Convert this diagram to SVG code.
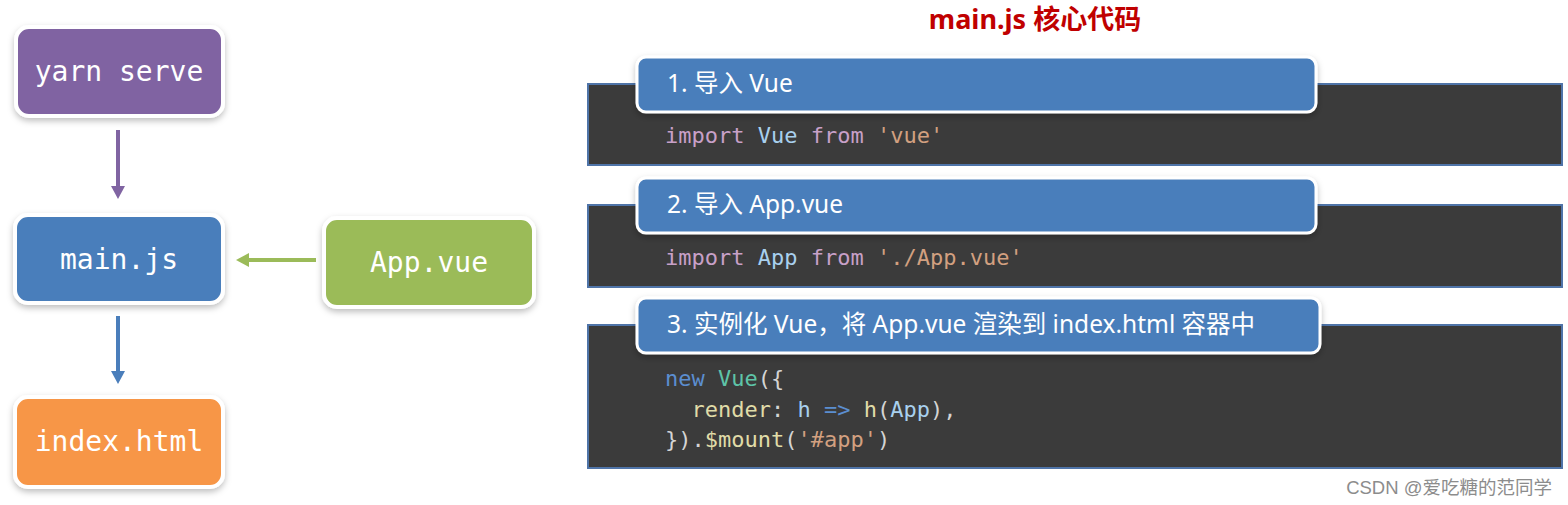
<svg xmlns="http://www.w3.org/2000/svg" width="1568" height="505" viewBox="0 0 1568 505">
<defs>
<filter id="sh" x="-20%" y="-20%" width="140%" height="150%">
<feDropShadow dx="0" dy="3" stdDeviation="3" flood-color="#000" flood-opacity="0.25"/>
</filter>
<marker id="ahP" markerWidth="14" markerHeight="14" refX="6" refY="7" orient="auto" markerUnits="userSpaceOnUse" viewBox="0 0 14 14"><path d="M0,0 L13,7 L0,14 z" fill="#8064A2"/></marker>
<marker id="ahB" markerWidth="14" markerHeight="14" refX="6" refY="7" orient="auto" markerUnits="userSpaceOnUse" viewBox="0 0 14 14"><path d="M0,0 L13,7 L0,14 z" fill="#4A7EBB"/></marker>
<marker id="ahG" markerWidth="14" markerHeight="14" refX="6" refY="7" orient="auto" markerUnits="userSpaceOnUse" viewBox="0 0 14 14"><path d="M0,0 L13,7 L0,14 z" fill="#9BBB59"/></marker>
</defs>
<style>
.box{stroke:#fff;stroke-width:4;filter:url(#sh)}
.lbl{font-family:"DejaVu Sans Mono","Liberation Mono",monospace;font-size:28px;fill:#fff;text-anchor:middle}
.code-bg{fill:#3B3B3B;stroke:#4F74A8;stroke-width:2}
.hdr{fill:#4A7EBB;stroke:#fff;stroke-width:3;filter:url(#sh)}
.htxt{font-family:"Noto Sans","Noto Sans CJK SC",sans-serif;font-size:24.5px;fill:#fff}
.code{font-family:"DejaVu Sans Mono","Liberation Mono",monospace;font-size:22px;fill:#D4D4D4;white-space:pre}
.kw{fill:#C8A0C8}
.id{fill:#A8D0EE}
.str{fill:#D2A080}
.nw{fill:#5B8ED0}
.cls{fill:#5EC4A8}
.fn{fill:#E0DCA8}
.op{fill:#5B8ED0}
</style>
<rect width="1568" height="505" fill="#fff"/>
<text x="1035" y="29" text-anchor="middle" font-family="Noto Sans,Noto Sans CJK SC,sans-serif" font-weight="bold" font-size="27" fill="#C00000">main.js 核心代码</text>

<g id="connectors">
<line x1="118" y1="130" x2="118" y2="192" stroke="#8064A2" stroke-width="4" marker-end="url(#ahP)"/>
<line x1="118" y1="316" x2="118" y2="377" stroke="#4A7EBB" stroke-width="4" marker-end="url(#ahB)"/>
<line x1="316" y1="260" x2="243" y2="260" stroke="#9BBB59" stroke-width="4" marker-end="url(#ahG)"/>
</g>

<g id="yarn-serve">
<rect class="box" x="16" y="27" width="207" height="89" rx="13" fill="#8064A2"/>
<text class="lbl" x="119" y="81">yarn serve</text>
</g>
<g id="main-js">
<rect class="box" x="15" y="215" width="208" height="88" rx="13" fill="#4A7EBB"/>
<text class="lbl" x="119" y="269">main.js</text>
</g>
<g id="app-vue">
<rect class="box" x="324" y="218" width="210" height="89" rx="13" fill="#9BBB59"/>
<text class="lbl" x="429" y="272">App.vue</text>
</g>
<g id="index-html">
<rect class="box" x="15" y="397" width="208" height="90" rx="13" fill="#F79646"/>
<text class="lbl" x="119" y="451">index.html</text>
</g>

<g id="step1">
<rect class="code-bg" x="588" y="84" width="974" height="81"/>
<rect class="hdr" x="637" y="57" width="679" height="55" rx="9"/>
<text class="htxt" x="667" y="92">1. 导入 Vue</text>
<text class="code" x="665" y="143"><tspan class="kw">import</tspan> <tspan class="id">Vue</tspan> <tspan class="kw">from</tspan> <tspan class="str">'vue'</tspan></text>
</g>
<g id="step2">
<rect class="code-bg" x="588" y="205" width="974" height="82"/>
<rect class="hdr" x="637" y="178" width="679" height="55" rx="9"/>
<text class="htxt" x="667" y="213">2. 导入 App.vue</text>
<text class="code" x="665" y="265"><tspan class="kw">import</tspan> <tspan class="id">App</tspan> <tspan class="kw">from</tspan> <tspan class="str">'./App.vue'</tspan></text>
</g>
<g id="step3">
<rect class="code-bg" x="588" y="325" width="974" height="143"/>
<rect class="hdr" x="637" y="298" width="683" height="55" rx="9"/>
<text class="htxt" x="667" y="333">3. 实例化 Vue，将 App.vue 渲染到 index.html 容器中</text>
<text class="code" x="665" y="386"><tspan class="nw">new</tspan> <tspan class="cls">Vue</tspan>({</text>
<text class="code" x="665" y="417">  <tspan class="fn">render</tspan>: <tspan class="id">h</tspan> <tspan class="op">=&gt;</tspan> <tspan class="fn">h</tspan>(<tspan class="id">App</tspan>),</text>
<text class="code" x="665" y="447">}).<tspan class="fn">$mount</tspan>(<tspan class="str">'#app'</tspan>)</text>
</g>

<text x="1552" y="494" text-anchor="end" font-family="Liberation Sans,Noto Sans CJK SC,sans-serif" font-size="18.5" fill="#8C8C8C">CSDN @爱吃糖的范同学</text>
</svg>
